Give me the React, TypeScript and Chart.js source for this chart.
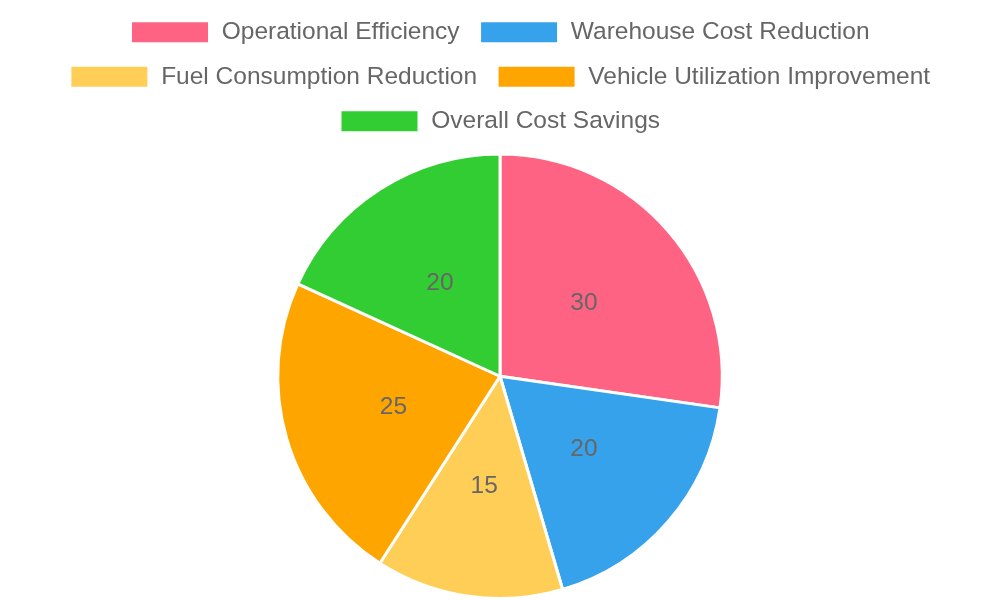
import { useEffect, useRef } from "react";
import Chart from "chart.js/auto";

const labels = [
  "Operational Efficiency",
  "Warehouse Cost Reduction",
  "Fuel Consumption Reduction",
  "Vehicle Utilization Improvement",
  "Overall Cost Savings",
];
const values = [30, 20, 15, 25, 20];
const colors = ["#FF6384", "#36A2EB", "#FFCE56", "#FFA500", "#32CD32"];

// draws the value in the middle of each slice
const sliceLabels = {
  id: "sliceLabels",
  afterDatasetsDraw(chart: any) {
    const ctx = chart.ctx;
    const meta = chart.getDatasetMeta(0);
    ctx.save();
    ctx.font = "24.5px 'Liberation Sans', Arial, sans-serif";
    ctx.fillStyle = "#666";
    ctx.textAlign = "center";
    ctx.textBaseline = "middle";
    meta.data.forEach((arc: any, i: number) => {
      const p = arc.tooltipPosition();
      ctx.fillText(String(chart.data.datasets[0].data[i]), p.x, p.y);
    });
    ctx.restore();
  },
};

// a bit more room under the legend
const legendGap = {
  id: "legendGap",
  beforeInit(chart: any) {
    const fit = chart.legend.fit;
    chart.legend.fit = function () {
      fit.bind(chart.legend)();
      this.height += 9;
    };
  },
};

export default function App() {
  const chartRef = useRef<HTMLCanvasElement | null>(null);

  useEffect(() => {
    if (!chartRef.current) return;
    const ctx = chartRef.current.getContext("2d");
    if (!ctx) return;

    const chartInstance = new Chart(ctx, {
      type: "pie",
      data: {
        labels,
        datasets: [
          {
            data: values,
            backgroundColor: colors,
            borderColor: "#fff",
            borderWidth: 3,
          },
        ],
      },
      options: {
        responsive: true,
        maintainAspectRatio: false,
        animation: false,
        plugins: {
          legend: {
            position: "top",
            labels: {
              boxWidth: 79,
              boxHeight: 23,
              padding: 20,
              color: "#666",
              font: { size: 24.5, family: "'Liberation Sans', Arial, sans-serif" },
            },
          },
          tooltip: { enabled: false },
        },
      },
      plugins: [sliceLabels, legendGap],
    });

    return () => {
      chartInstance.destroy();
    };
  }, []);

  return (
    <div style={{ position: "fixed", left: 0, top: 0, width: 1000, height: 600, background: "#fff" }}>
      <canvas ref={chartRef}></canvas>
    </div>
  );
}
